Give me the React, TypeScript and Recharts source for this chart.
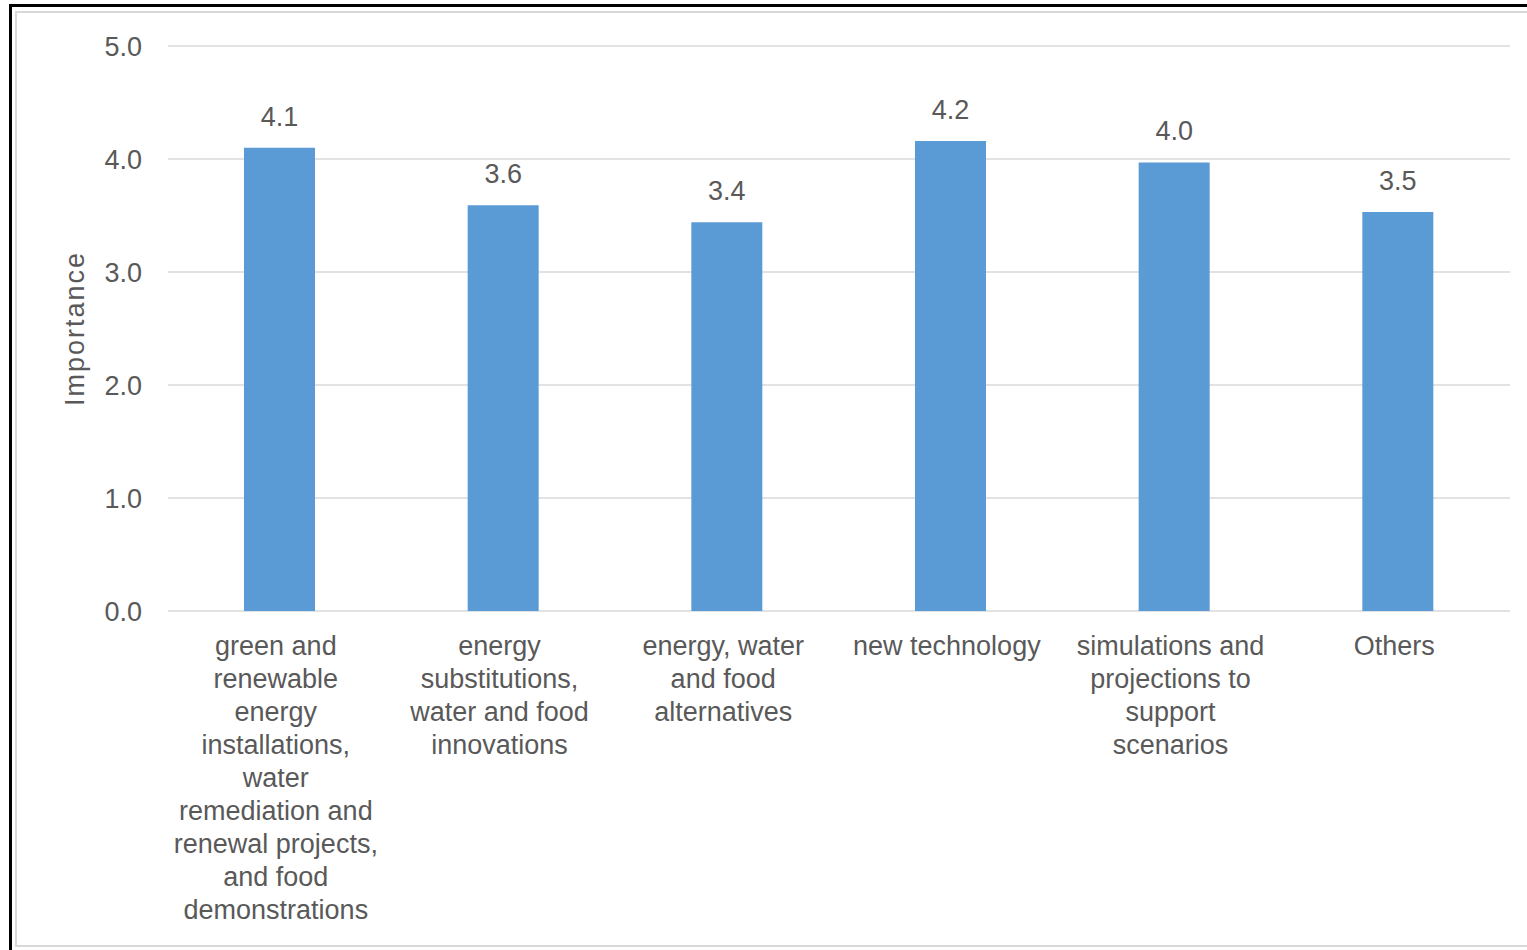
// @ts-nocheck
import { BarChart, Bar, XAxis, YAxis, CartesianGrid, LabelList, Label } from "recharts";

const categories = [
  "green and renewable energy installations, water remediation and renewal projects, and food demonstrations",
  "energy substitutions, water and food innovations",
  "energy, water and food alternatives",
  "new technology",
  "simulations and projections to support scenarios",
  "Others",
];

// line breaks as they appear under each bar
const categoryLines = [
  ["green and", "renewable", "energy", "installations,", "water", "remediation and", "renewal projects,", "and food", "demonstrations"],
  ["energy", "substitutions,", "water and food", "innovations"],
  ["energy, water", "and food", "alternatives"],
  ["new technology"],
  ["simulations and", "projections to", "support", "scenarios"],
  ["Others"],
];

const importance = [4.1, 3.59, 3.44, 4.16, 3.97, 3.53];

const yTicks = [0, 1, 2, 3, 4, 5];

const data = categories.map((name, i) => ({ name, lines: categoryLines[i], value: importance[i] }));

const TEXT = "#595959";
const FONT = "'Liberation Sans', Arial, sans-serif";

const CategoryTick = ({ x, y, payload, index }: any) => {
  const lines = categoryLines[index] || [payload.value];
  return (
    <g transform={`translate(${x - 4},${y})`}>
      <text textAnchor="middle" fill={TEXT} fontSize={27} fontFamily={FONT}>
        {lines.map((ln, i) => (
          <tspan key={i} x={0} y={44 + i * 33}>
            {ln}
          </tspan>
        ))}
      </text>
    </g>
  );
};

const YTitle = ({ viewBox }: any) => {
  const cx = viewBox.x + 75;
  const cy = viewBox.y + viewBox.height / 2;
  return (
    <text
      x={cx}
      y={cy}
      transform={`rotate(-90, ${cx}, ${cy})`}
      textAnchor="middle"
      dominantBaseline="central"
      fill={TEXT}
      fontSize={27}
      fontFamily={FONT}
      letterSpacing={2}
    >
      Importance
    </text>
  );
};

export default function App() {
  return (
    <div style={{ position: "absolute", left: 0, top: 0, width: 1527, height: 950, background: "#fff", overflow: "hidden" }}>
      <div style={{ position: "absolute", left: 9, top: 4, width: 1600, height: 1000, border: "3px solid #000", boxSizing: "border-box" }} />
      <div style={{ position: "absolute", left: 15, top: 11, width: 1600, height: 936, border: "2px solid #d9d9d9", boxSizing: "border-box" }} />
      <div style={{ position: "absolute", left: 0, top: 0 }}>
        <BarChart
          width={1527}
          height={950}
          data={data}
          margin={{ top: 46, right: 17, left: 0, bottom: 19 }}
        >
          <CartesianGrid vertical={false} stroke="#d9d9d9" strokeWidth={1.5} />
          <XAxis
            dataKey="name"
            axisLine={false}
            tickLine={false}
            tickSize={0}
            tickMargin={0}
            height={320}
            interval={0}
            tick={<CategoryTick />}
          />
          <YAxis
            width={168}
            domain={[0, 5]}
            ticks={yTicks}
            axisLine={false}
            tickLine={false}
            tickSize={0}
            tickMargin={26}
            tickFormatter={(v) => v.toFixed(1)}
            tick={{ fill: TEXT, fontSize: 27, fontFamily: FONT }}
          >
            <Label content={<YTitle />} />
          </YAxis>
          <Bar dataKey="value" fill="#5b9bd5" barSize={71} isAnimationActive={false}>
            <LabelList
              dataKey="value"
              position="top"
              offset={22}
              formatter={(v) => Number(v).toFixed(1)}
              fill={TEXT}
              fontSize={27}
              fontFamily={FONT}
            />
          </Bar>
        </BarChart>
      </div>
    </div>
  );
}
